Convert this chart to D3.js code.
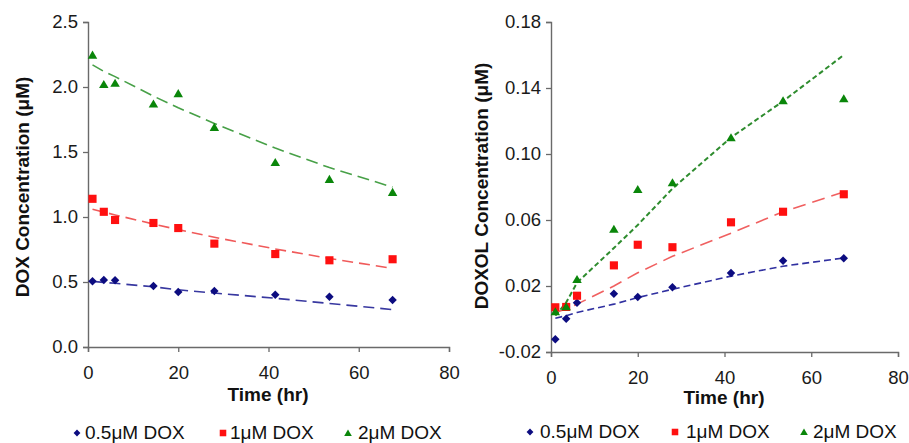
<!DOCTYPE html>
<html>
<head>
<meta charset="utf-8">
<script src="https://cdn.jsdelivr.net/npm/d3@7"></script>
<style>
  html, body { margin: 0; padding: 0; background: #fff; }
  svg { display: block; font-family: Arial, "Liberation Sans", sans-serif; }
</style>
</head>
<body>
<svg id="chart" width="909" height="443"></svg>
<script>
// Sampling times (hr)
const times = [1, 3.5, 6, 14.5, 20, 28, 41.5, 53.5, 67.5];

// DOX concentration (uM): measured points
const dox05 = [0.505, 0.515, 0.513, 0.469, 0.423, 0.431, 0.402, 0.387, 0.362];
const dox1  = [1.14, 1.04, 0.977, 0.954, 0.915, 0.795, 0.715, 0.667, 0.675];
const dox2  = [2.246, 2.02, 2.03, 1.87, 1.95, 1.69, 1.42, 1.29, 1.19];
// DOX concentration: model fit
const doxFit05 = [0.505, 0.497, 0.490, 0.463, 0.440, 0.415, 0.375, 0.335, 0.288];
const doxFit1  = [1.06, 1.038, 1.016, 0.946, 0.903, 0.844, 0.754, 0.681, 0.605];
const doxFit2  = [2.17, 2.12, 2.08, 1.93, 1.84, 1.72, 1.53, 1.38, 1.23];

// DOXOL concentration (uM): measured points
const doxol05 = [-0.0123, 0.0002, 0.0099, 0.0153, 0.0133, 0.0192, 0.0279, 0.0353, 0.0368];
const doxol1  = [0.0071, 0.0073, 0.0141, 0.0325, 0.045, 0.0435, 0.0586, 0.065, 0.0756];
const doxol2  = [0.0044, 0.0075, 0.024, 0.0544, 0.0786, 0.0826, 0.1099, 0.1323, 0.1335];
// DOXOL concentration: model fit
const doxolFit05 = [0.0005, 0.002, 0.004, 0.009, 0.013, 0.018, 0.026, 0.032, 0.037];
const doxolFit1  = [0.004, 0.006, 0.009, 0.020, 0.028, 0.038, 0.052, 0.065, 0.077];
const doxolFit2  = [0.002, 0.010, 0.022, 0.043, 0.057, 0.079, 0.110, 0.132, 0.160];

const xTicks = [0, 20, 40, 60, 80];
const doxTicks = [0, 0.5, 1.0, 1.5, 2.0, 2.5];
const doxolTicks = [-0.02, 0.02, 0.06, 0.10, 0.14, 0.18];
const seriesNames = ["0.5\u03bcM DOX", "1\u03bcM DOX", "2\u03bcM DOX"];

const svg = d3.select("#chart");

// Excel-style marker shapes
const diamond = { draw(ctx, size) { const r = Math.sqrt(size / 2);
  ctx.moveTo(0, -r); ctx.lineTo(r, 0); ctx.lineTo(0, r); ctx.lineTo(-r, 0); ctx.closePath(); } };
const square = { draw(ctx, size) { const r = Math.sqrt(size) / 2;
  ctx.rect(-r, -r, 2 * r, 2 * r); } };
const triangle = { draw(ctx, size) { const w = Math.sqrt(size) * 1.15, h = w * 0.85;
  ctx.moveTo(0, -h * 0.55); ctx.lineTo(w / 2, h * 0.45); ctx.lineTo(-w / 2, h * 0.45); ctx.closePath(); } };

const markerStyles = [
  { type: diamond, size: 36, fill: "#0c0c80" },
  { type: square, size: 66, fill: "#ff1010" },
  { type: triangle, size: 68, fill: "#0a860a" }
];

function panel(cfg) {
  const x = d3.scaleLinear().domain([0, 80]).range([cfg.x0, cfg.x1]);
  const y = d3.scaleLinear().domain(cfg.yDomain).range([cfg.y0, cfg.y1]);
  const g = svg.append("g");

  const xAxis = g.append("g")
    .attr("transform", `translate(0,${cfg.y0})`)
    .call(d3.axisBottom(x).tickValues(xTicks).tickFormat(d3.format("d")).tickSizeOuter(0).tickSize(5).tickPadding(cfg.xPad));
  const yAxis = g.append("g")
    .attr("transform", `translate(${cfg.x0},0)`)
    .call(d3.axisLeft(y).tickValues(cfg.yTicks).tickFormat(cfg.yFormat).tickSizeOuter(0).tickSize(5).tickPadding(5));
  [xAxis, yAxis].forEach(a => {
    a.select(".domain").attr("stroke", "#6a6a6a").attr("stroke-width", 1.4);
    a.selectAll(".tick line").attr("stroke", "#6a6a6a").attr("stroke-width", 1.3);
    a.selectAll(".tick text").attr("fill", "#1a1a1a").attr("font-size", "18.5px")
      .attr("font-family", "Arial, 'Liberation Sans', sans-serif");
  });

  // fitted curves
  const line = d3.line().x((d, i) => x(times[i])).y(d => y(d));
  cfg.fits.forEach((f, k) => {
    g.append("path").datum(f)
      .attr("fill", "none")
      .attr("stroke", cfg.lineColors[k])
      .attr("stroke-width", cfg.lineWidths[k])
      .attr("stroke-dasharray", cfg.dashes[k])
      .attr("d", line);
  });

  // measured points
  cfg.points.forEach((p, k) => {
    const ms = markerStyles[k];
    g.selectAll(null).data(p).enter().append("path")
      .attr("transform", (d, i) => `translate(${x(times[i])},${y(d)})`)
      .attr("d", d3.symbol().type(ms.type).size(ms.size))
      .attr("fill", ms.fill);
  });

  // axis titles
  g.append("text")
    .attr("x", cfg.xTitleX).attr("y", cfg.xTitleY)
    .attr("text-anchor", "middle").attr("font-weight", "bold").attr("font-size", "19px").attr("fill", "#111")
    .text("Time (hr)");
  g.append("text")
    .attr("transform", `translate(${cfg.yTitleX},${cfg.yTitleY}) rotate(-90)`)
    .attr("text-anchor", "middle").attr("font-weight", "bold").attr("font-size", "19px").attr("fill", "#111")
    .text(cfg.yTitle);

  // legend
  cfg.legend.forEach((L, k) => {
    const ms = markerStyles[k];
    g.append("path")
      .attr("transform", `translate(${L.mx},${cfg.legendY - 6})`)
      .attr("d", d3.symbol().type(ms.type).size(ms.size * 0.65))
      .attr("fill", ms.fill);
    g.append("text")
      .attr("x", L.tx).attr("y", cfg.legendY)
      .attr("font-size", "19px").attr("fill", "#111")
      .text(seriesNames[k]);
  });
}

panel({
  x0: 88, x1: 449, y0: 347, y1: 22,
  yDomain: [0, 2.5], yTicks: doxTicks, yFormat: d => d.toFixed(1),
  xPad: 14,
  points: [dox05, dox1, dox2],
  fits: [doxFit05, doxFit1, doxFit2],
  lineColors: ["#3838a0", "#f05a5a", "#47a047"],
  lineWidths: [1.6, 1.6, 1.6],
  dashes: ["11,6", "11,6", "12,6"],
  xTitleX: 268, xTitleY: 401,
  yTitleX: 29, yTitleY: 187, yTitle: "DOX Concentration (\u03bcM)",
  legendY: 439,
  legend: [{ mx: 77, tx: 85 }, { mx: 223, tx: 230 }, { mx: 348, tx: 358 }]
});

panel({
  x0: 551, x1: 898, y0: 352, y1: 22,
  yDomain: [-0.02, 0.18], yTicks: doxolTicks, yFormat: d => d.toFixed(2),
  xPad: 14,
  points: [doxol05, doxol1, doxol2],
  fits: [doxolFit05, doxolFit1, doxolFit2],
  lineColors: ["#3030a0", "#f06060", "#2e8c2e"],
  lineWidths: [1.6, 1.6, 2],
  dashes: ["7,4", "13,7", "5,3"],
  xTitleX: 724, xTitleY: 404,
  yTitleX: 488, yTitleY: 186, yTitle: "DOXOL Concentration (\u03bcM)",
  legendY: 438,
  legend: [{ mx: 530, tx: 540 }, { mx: 675, tx: 686 }, { mx: 804, tx: 813 }]
});
</script>
</body>
</html>
